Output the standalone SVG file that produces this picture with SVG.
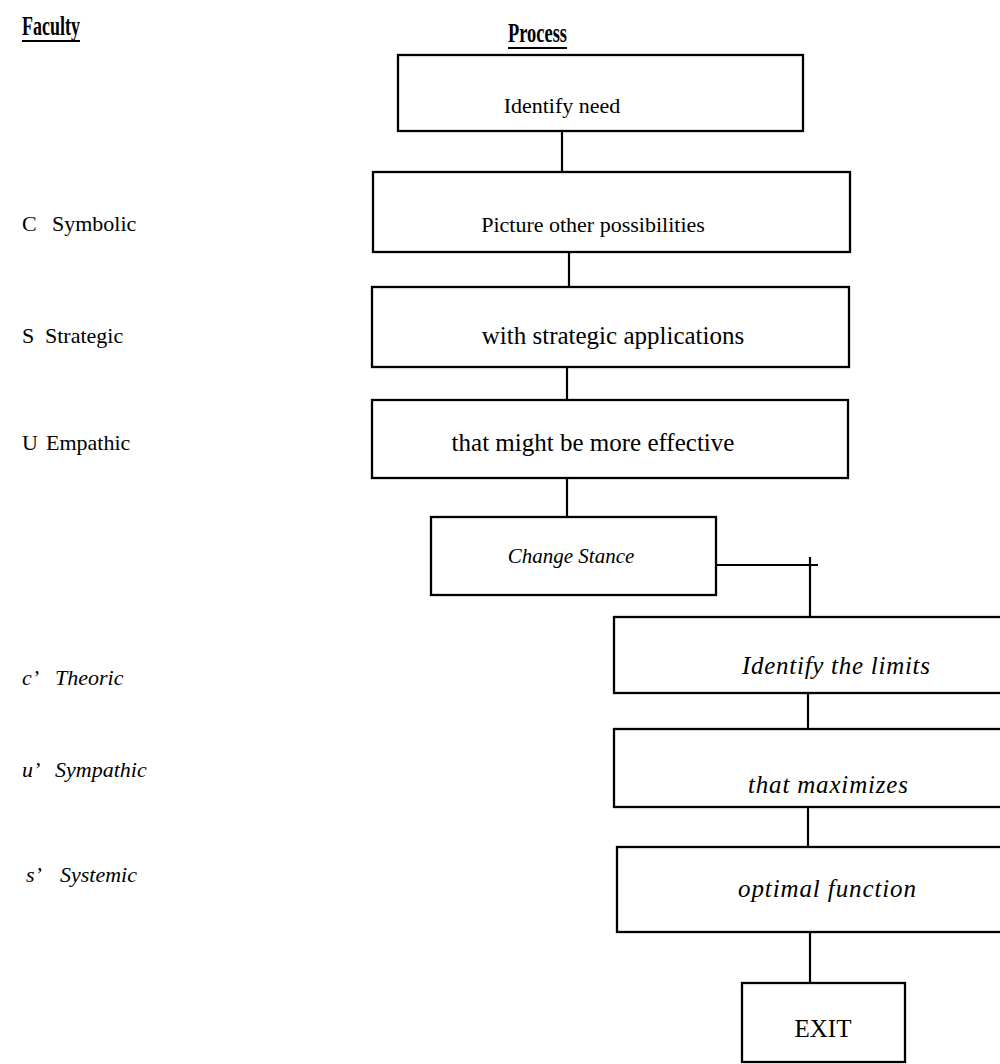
<svg xmlns="http://www.w3.org/2000/svg" width="1000" height="1064" viewBox="0 0 1000 1064">
  <style>
    .box { fill: #fff; stroke: #000; stroke-width: 2.3; }
    .wire { stroke: #000; stroke-width: 2.2; fill: none; }
    .t { font-family: "Liberation Serif", "Times New Roman", serif; font-size: 25px; fill: #000; }
    .lbl { font-family: "Liberation Serif", "Times New Roman", serif; font-size: 22px; fill: #000; }
    .c { text-anchor: middle; }
    .i { font-style: italic; }
    .hd { font-family: "Liberation Serif", "Times New Roman", serif; font-size: 28px; font-weight: bold; fill: #000; }
  </style>

  <rect width="1000" height="1064" fill="#fff"/>

  <!-- column headings -->
  <g id="headings">
    <text class="hd" x="22" y="35" textLength="58" lengthAdjust="spacingAndGlyphs">Faculty</text>
    <line class="wire" x1="22" y1="41" x2="80" y2="41"/>
    <text class="hd" x="508" y="42" textLength="59" lengthAdjust="spacingAndGlyphs">Process</text>
    <line class="wire" x1="508" y1="48" x2="567" y2="48"/>
  </g>

  <!-- faculty labels -->
  <g id="faculties">
    <text class="lbl" y="231"><tspan x="22">C</tspan><tspan x="52">Symbolic</tspan></text>
    <text class="lbl" y="343"><tspan x="22">S</tspan><tspan x="45">Strategic</tspan></text>
    <text class="lbl" y="450"><tspan x="22">U</tspan><tspan x="46">Empathic</tspan></text>
    <text class="lbl i" y="685"><tspan x="22">c’</tspan><tspan x="55">Theoric</tspan></text>
    <text class="lbl i" y="777"><tspan x="22">u’</tspan><tspan x="55">Sympathic</tspan></text>
    <text class="lbl i" y="882"><tspan x="26">s’</tspan><tspan x="60">Systemic</tspan></text>
  </g>

  <!-- connectors -->
  <g id="connectors">
    <line class="wire" x1="562" y1="131" x2="562" y2="172"/>
    <line class="wire" x1="569" y1="252" x2="569" y2="287"/>
    <line class="wire" x1="567" y1="367" x2="567" y2="400"/>
    <line class="wire" x1="567" y1="478" x2="567" y2="517"/>
    <polyline class="wire" points="716,565 818,565"/>
    <line class="wire" x1="810" y1="557" x2="810" y2="617"/>
    <line class="wire" x1="808" y1="693" x2="808" y2="729"/>
    <line class="wire" x1="808" y1="807" x2="808" y2="847"/>
    <line class="wire" x1="810" y1="932" x2="810" y2="990"/>
  </g>

  <g id="identify-need">
    <rect class="box" x="398" y="55" width="405" height="76"/>
    <text class="t c" x="562" y="113" style="font-size:22px">Identify need</text>
  </g>

  <g id="picture-possibilities">
    <rect class="box" x="373" y="172" width="477" height="80"/>
    <text class="t c" x="593" y="232" style="font-size:22px">Picture other possibilities</text>
  </g>

  <g id="strategic-applications">
    <rect class="box" x="372" y="287" width="477" height="80"/>
    <text class="t c" x="613" y="344">with strategic applications</text>
  </g>

  <g id="more-effective">
    <rect class="box" x="372" y="400" width="476" height="78"/>
    <text class="t c" x="593" y="451">that might be more effective</text>
  </g>

  <g id="change-stance">
    <rect class="box" x="431" y="517" width="285" height="78"/>
    <text class="t c i" x="571" y="563" style="font-size:21px">Change Stance</text>
  </g>

  <g id="identify-limits">
    <rect class="box" x="614" y="617" width="420" height="76"/>
    <text class="t c i" x="836" y="674" textLength="188">Identify the limits</text>
  </g>

  <g id="maximizes">
    <rect class="box" x="614" y="729" width="420" height="78"/>
    <text class="t c i" x="828" y="793" textLength="160">that maximizes</text>
  </g>

  <g id="optimal-function">
    <rect class="box" x="617" y="847" width="420" height="85"/>
    <text class="t c i" x="827" y="897" textLength="178">optimal function</text>
  </g>

  <g id="exit">
    <rect class="box" x="742" y="983" width="163" height="79"/>
    <text class="t c" x="823" y="1037">EXIT</text>
  </g>
</svg>
